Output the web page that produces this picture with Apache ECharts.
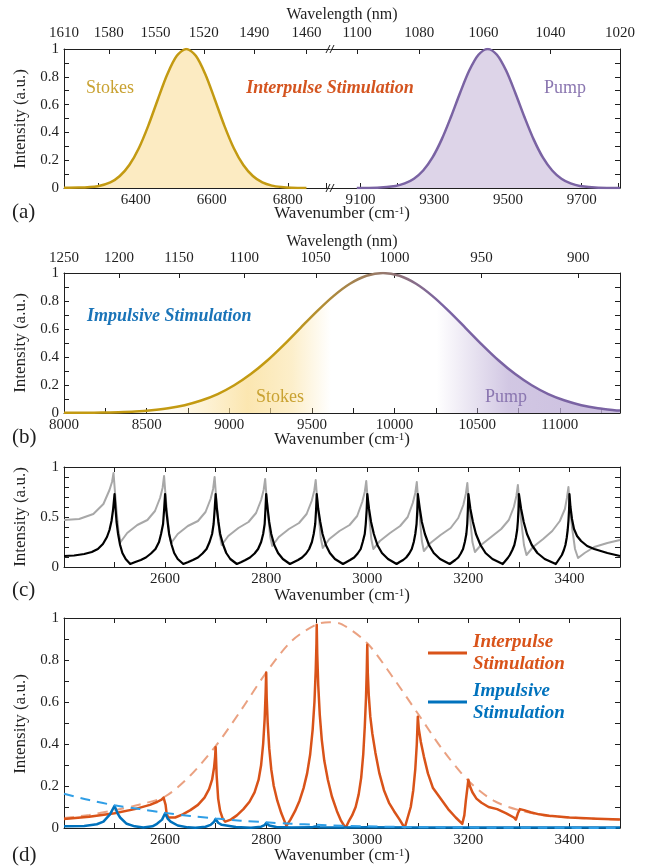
<!DOCTYPE html>
<html>
<head>
<meta charset="utf-8">
<title>Interpulse vs impulsive stimulation</title>
<script src="https://cdn.jsdelivr.net/npm/echarts@6/dist/echarts.min.js"></script>
<style>body{margin:0;background:#fff;}</style>
</head>
<body>
<div id="main" style="width:649px;height:867px;"></div>
<script>
// ---- data (x = wavenumber in cm-1, y = intensity a.u.) ----

// (a) two separated pulses
var stokesA = [[6211,0.002],[6250,0.003],[6300,0.013],[6333,0.04],[6358,0.086],[6383,0.165],[6408,0.286],
  [6433,0.449],[6458,0.637],[6483,0.818],[6508,0.951],[6533,1],[6558,0.951],[6583,0.818],[6608,0.637],
  [6633,0.449],[6658,0.286],[6683,0.165],[6708,0.086],[6733,0.04],[6758,0.017],[6783,0.007],[6810,0.002],[6849,0]];
var pumpA = [[9090,0],[9145,0.002],[9195,0.0145],[9220,0.033],[9245,0.067],[9270,0.126],[9295,0.218],
  [9320,0.348],[9345,0.509],[9370,0.684],[9395,0.845],[9420,0.959],[9445,1],[9470,0.959],[9495,0.845],
  [9520,0.684],[9545,0.509],[9570,0.348],[9595,0.218],[9620,0.126],[9645,0.067],[9670,0.033],[9695,0.0145],
  [9745,0.002],[9804,0]];

// (b) one broadband pulse
var broadB = [[8000,0.001],[8130,0.0015],[8230,0.003],[8330,0.006],[8430,0.011],[8530,0.02],[8630,0.034],
  [8730,0.056],[8830,0.089],[8930,0.135],[9030,0.198],[9130,0.278],[9230,0.375],[9330,0.487],[9430,0.607],
  [9530,0.726],[9630,0.835],[9730,0.923],[9830,0.98],[9930,1],[10030,0.98],[10130,0.923],[10230,0.835],
  [10330,0.726],[10430,0.607],[10530,0.487],[10630,0.375],[10730,0.278],[10830,0.198],[10930,0.135],
  [11030,0.089],[11130,0.056],[11230,0.034],[11330,0.02],[11364,0.017]];

// (c) grey and black comb spectra
var grayC = [[2400,0.47],[2430,0.48],[2458,0.53],[2478,0.63],[2490,0.77],[2495,0.85],[2498,0.94],
  [2501,0.74],[2504,0.56],[2508,0.35],[2512,0.25],[2525,0.34],[2545,0.42],[2565,0.47],[2580,0.56],[2590,0.69],[2595,0.79],[2598,0.91],
  [2601,0.71],[2604,0.54],[2608,0.33],[2612,0.24],[2625,0.33],[2645,0.41],[2665,0.46],[2680,0.55],[2690,0.68],[2695,0.78],[2698,0.9],
  [2701,0.7],[2704,0.53],[2708,0.32],[2712,0.22],[2725,0.31],[2745,0.39],[2765,0.45],[2780,0.54],[2790,0.67],[2795,0.77],[2798,0.88],
  [2801,0.68],[2804,0.51],[2808,0.3],[2812,0.21],[2825,0.3],[2845,0.38],[2865,0.44],[2880,0.53],[2890,0.66],[2895,0.76],[2898,0.87],
  [2901,0.67],[2904,0.5],[2908,0.29],[2912,0.19],[2925,0.28],[2945,0.36],[2965,0.42],[2980,0.51],[2990,0.65],[2995,0.75],[2998,0.86],
  [3001,0.66],[3004,0.49],[3008,0.28],[3012,0.18],[3025,0.26],[3045,0.34],[3065,0.41],[3080,0.5],[3090,0.64],[3095,0.74],[3098,0.85],
  [3101,0.65],[3104,0.48],[3108,0.26],[3112,0.16],[3125,0.24],[3145,0.32],[3165,0.39],[3180,0.49],[3190,0.62],[3195,0.73],[3198,0.84],
  [3201,0.64],[3204,0.46],[3208,0.25],[3213,0.15],[3225,0.22],[3245,0.3],[3265,0.38],[3280,0.47],[3290,0.6],[3295,0.71],[3298,0.82],
  [3301,0.62],[3305,0.44],[3310,0.22],[3315,0.12],[3328,0.2],[3348,0.28],[3366,0.36],[3381,0.46],[3391,0.58],[3395,0.69],[3398,0.8],
  [3401,0.6],[3405,0.4],[3411,0.18],[3417,0.09],[3430,0.14],[3449,0.2],[3475,0.24],[3500,0.27]];
var blackC = [[2400,0.11],[2420,0.115],[2440,0.13],[2455,0.15],[2467,0.18],[2477,0.23],[2485,0.3],[2490,0.37],[2494,0.46],[2497,0.57],[2500,0.73],
  [2502,0.58],[2504,0.45],[2507,0.33],[2511,0.22],[2515.5,0.14],[2522,0.08],[2531,0.03],
  [2541,0.05],[2552,0.07],[2562,0.095],[2572,0.135],[2581,0.18],[2588,0.25],[2592,0.33],[2596,0.43],[2598,0.57],[2600,0.73],
  [2602,0.58],[2605,0.45],[2608,0.33],[2613,0.22],[2618,0.14],[2625,0.08],[2636,0.03],
  [2646,0.05],[2655,0.07],[2665,0.095],[2674,0.135],[2682,0.18],[2688,0.25],[2693,0.33],[2696,0.43],[2698,0.57],[2700,0.73],
  [2702.5,0.58],[2705.5,0.45],[2709,0.33],[2715,0.22],[2721,0.14],[2729,0.08],[2742,0.03],
  [2751,0.05],[2759,0.07],[2768,0.095],[2777,0.135],[2784,0.18],[2790,0.25],[2794,0.33],[2797,0.43],[2798.5,0.57],[2800,0.73],
  [2803,0.58],[2806,0.45],[2810,0.33],[2816,0.22],[2823.5,0.14],[2833,0.08],[2847,0.03],
  [2855,0.05],[2863,0.07],[2871,0.095],[2879,0.135],[2885,0.18],[2890.5,0.25],[2894,0.33],[2897,0.43],[2898.7,0.57],[2900,0.73],
  [2903,0.58],[2907,0.45],[2911.5,0.33],[2918,0.22],[2926,0.14],[2936,0.08],[2952,0.03],
  [2959,0.05],[2966,0.07],[2974,0.095],[2981,0.135],[2987,0.18],[2991,0.25],[2995,0.33],[2997,0.43],[2998.8,0.57],[3000,0.73],
  [3003.5,0.58],[3007.5,0.45],[3013,0.33],[3020,0.22],[3029,0.14],[3041,0.08],[3058,0.03],
  [3064,0.05],[3071,0.07],[3077,0.095],[3083,0.135],[3088,0.18],[3092,0.25],[3095,0.33],[3097.5,0.43],[3099,0.57],[3100,0.73],
  [3104,0.58],[3108,0.45],[3114,0.33],[3122,0.22],[3131.5,0.14],[3144,0.08],[3163,0.03],
  [3168.5,0.05],[3174,0.07],[3180,0.095],[3185,0.135],[3189.5,0.18],[3193,0.25],[3196,0.33],[3197.8,0.43],[3199,0.57],[3200,0.73],
  [3204,0.58],[3209,0.45],[3215,0.33],[3224,0.22],[3234,0.14],[3247.6,0.08],[3268,0.03],
  [3273,0.06],[3278,0.09],[3282,0.12],[3287,0.17],[3291,0.22],[3294,0.29],[3296.5,0.37],[3298,0.46],[3299.2,0.58],[3300,0.73],
  [3304.4,0.58],[3309.5,0.45],[3316,0.33],[3325.5,0.22],[3336.5,0.14],[3351,0.08],[3373,0.03],
  [3377,0.06],[3381,0.09],[3385,0.12],[3389,0.17],[3392,0.22],[3394.5,0.29],[3396.5,0.37],[3398,0.46],[3399.3,0.58],[3400,0.73],
  [3402,0.6],[3405,0.48],[3409,0.38],[3415,0.31],[3423,0.26],[3435,0.21],[3449,0.18],[3475,0.14],[3500,0.11]];

// (d) resulting Raman excitation
var interpulseD = [[2400,0.043],[2450,0.054],[2500,0.07],[2540,0.09],[2570,0.11],[2585,0.125],[2593,0.135],[2597,0.145],[2599,0.15],
  [2601,0.11],[2603,0.07],[2606,0.05],[2609,0.043],
  [2620,0.05],[2635,0.065],[2650,0.085],[2665,0.11],[2678,0.145],[2687,0.185],[2693,0.23],[2697,0.29],[2699,0.34],[2700,0.385],
  [2702,0.25],[2705,0.14],[2709,0.08],[2714,0.045],[2719,0.03],
  [2730,0.04],[2742,0.06],[2755,0.09],[2767,0.125],[2777,0.17],[2785,0.23],[2790,0.3],[2794,0.4],[2797,0.52],[2799,0.65],[2800,0.74],
  [2801,0.62],[2803,0.5],[2806,0.38],[2810,0.28],[2815,0.2],[2822,0.13],[2830,0.07],[2840,0.01],
  [2848,0.04],[2857,0.08],[2866,0.13],[2874,0.19],[2881,0.26],[2887,0.35],[2892,0.47],[2895.5,0.6],[2898,0.75],[2899.5,0.88],[2900,0.968],
  [2901,0.83],[2903,0.68],[2906,0.54],[2910,0.42],[2915,0.32],[2922,0.23],[2930,0.15],[2940,0.08],[2948,0.035],[2957,0],
  [2963,0.03],[2970,0.06],[2977,0.1],[2983,0.16],[2988,0.24],[2992,0.35],[2995,0.48],[2997.5,0.62],[2999,0.75],[3000,0.873],
  [3001,0.74],[3003,0.63],[3006,0.53],[3010,0.45],[3016,0.36],[3024,0.26],[3033,0.18],[3043,0.12],[3053,0.08],[3064,0.04],[3074,0],
  [3080,0.05],[3086,0.1],[3091,0.18],[3095,0.28],[3098,0.4],[3100,0.53],
  [3102,0.47],[3106,0.41],[3112,0.34],[3120,0.26],[3130,0.19],[3145,0.14],[3160,0.09],[3175,0.05],[3188,0.02],
  [3192,0.06],[3195,0.13],[3198,0.19],[3200,0.23],
  [3203,0.2],[3208,0.17],[3216,0.14],[3226,0.12],[3240,0.1],[3257,0.09],[3275,0.07],[3290,0.05],[3294,0.04],
  [3298,0.07],[3302,0.09],[3310,0.085],[3323,0.075],[3340,0.065],[3360,0.058],[3400,0.05],[3455,0.044],[3500,0.04]];
var interpulseEnvD = [[2400,0.048],[2450,0.062],[2500,0.085],[2550,0.112],[2600,0.15],[2650,0.25],[2700,0.39],
  [2750,0.56],[2800,0.74],[2850,0.89],[2900,0.97],[2925,0.98],[2950,0.97],[3000,0.88],[3050,0.72],[3100,0.545],
  [3150,0.37],[3200,0.225],[3250,0.13],[3300,0.085],[3350,0.06],[3400,0.05],[3450,0.044],[3500,0.04]];
var impulsiveD = [[2400,0.008],[2440,0.01],[2465,0.018],[2478,0.03],[2491,0.065],[2500,0.105],[2506,0.07],
  [2511,0.05],[2524,0.02],[2540,0.008],[2557,0.002],[2575,0.008],[2584,0.02],[2594,0.04],[2600,0.07],
  [2605,0.045],[2611,0.03],[2625,0.012],[2645,0.003],[2660,0.001],[2680,0.006],[2690,0.015],[2697,0.03],
  [2700,0.043],[2705,0.025],[2712,0.015],[2740,0.005],[2770,0.001],[2790,0.006],[2797,0.014],[2800,0.024],
  [2806,0.012],[2820,0.005],[2850,0.002],[2890,0.003],[2897,0.007],[2900,0.011],[2906,0.004],[2950,0.002],
  [3000,0.003],[3100,0.002],[3500,0.002]];
var impulsiveEnvD = [[2400,0.163],[2450,0.133],[2500,0.108],[2550,0.09],[2600,0.072],[2650,0.057],[2700,0.045],
  [2750,0.035],[2800,0.027],[2850,0.02],[2900,0.015],[3000,0.008],[3100,0.004],[3200,0.002],[3350,0.001],[3500,0]];

// ---- tick labels ----
var waveTopALeft = [1610, 1580, 1550, 1520, 1490, 1460];      // nm
var waveTopARight = [1100, 1080, 1060, 1040, 1020];          // nm
var waveTopB = [1250, 1200, 1150, 1100, 1050, 1000, 950, 900]; // nm
var numLabelsALeft = [6400, 6600, 6800];
var numTicksALeft = [6300, 6400, 6500, 6600, 6700, 6800, 6900];
var numLabelsARight = [9100, 9300, 9500, 9700];
var numTicksARight = [9100, 9200, 9300, 9400, 9500, 9600, 9700, 9800];
var numLabelsB = [8000, 8500, 9000, 9500, 10000, 10500, 11000];
var numTicksB = [8250, 8500, 8750, 9000, 9250, 9500, 9750, 10000, 10250, 10500, 10750, 11000, 11250];
var numLabelsCD = [2600, 2800, 3000, 3200, 3400];
var numTicksCD = [2500, 2600, 2700, 2800, 2900, 3000, 3100, 3200, 3300, 3400];

var FONT = 'Liberation Serif';
var INK = '#1f1f1f';
var GOLD = '#c39a12', PURPLE = '#7a63a3';
var ORANGE = '#d95319', BLUE = '#0072bd';

function toNum(nm) { return 1e7 / nm; }
function nmFmt(v) { return String(Math.round(1e7 / v)); }
function plain(v) { return String(v); }   // no thousands separators

// one axis of a boxed (matlab-like) frame
function ax(o) {
  var a = {
    type: 'value', gridIndex: o.grid, position: o.pos, min: o.min, max: o.max,
    splitLine: {show: false},
    axisLine: {onZero: false, lineStyle: {color: INK, width: 1}},
    axisTick: {inside: true, length: 5, lineStyle: {color: INK, width: 1}},
    minorTick: {show: !!o.minor, splitNumber: o.minor || 2, length: 5, lineStyle: {color: INK, width: 1}},
    axisLabel: {show: !!o.labels, fontFamily: FONT, fontSize: 15, color: INK, margin: o.margin || 5,
      formatter: o.fmt || plain}
  };
  if (o.interval) a.interval = o.interval;
  if (o.ticks) a.axisTick.customValues = o.ticks;
  if (o.labels && o.labels !== true) a.axisLabel.customValues = o.labels;
  return a;
}

var grids = [
  {left: 64, top: 49, width: 266, height: 139},   // (a) left part
  {left: 331, top: 49, width: 289, height: 139},  // (a) right part
  {left: 64, top: 273, width: 556, height: 140},  // (b)
  {left: 64, top: 467, width: 556, height: 100},  // (c)
  {left: 64, top: 618, width: 556, height: 210}   // (d)
];
grids.forEach(function (g) { g.outerBoundsMode = 'none'; });

var aL = [toNum(1610), 6911], aR = [9020, toNum(1020)];
var waveTicksAL = waveTopALeft.map(toNum), waveTicksAR = waveTopARight.map(toNum), waveTicksB = waveTopB.map(toNum);

var xAxes = [
  ax({grid: 0, pos: 'bottom', min: aL[0], max: aL[1], ticks: numTicksALeft, labels: numLabelsALeft}),
  ax({grid: 0, pos: 'top', min: aL[0], max: aL[1], ticks: waveTicksAL, labels: waveTicksAL, fmt: nmFmt, margin: 8}),
  ax({grid: 1, pos: 'bottom', min: aR[0], max: aR[1], ticks: numTicksARight, labels: numLabelsARight}),
  ax({grid: 1, pos: 'top', min: aR[0], max: aR[1], ticks: waveTicksAR, labels: waveTicksAR, fmt: nmFmt, margin: 8}),
  ax({grid: 2, pos: 'bottom', min: 8000, max: 11364, ticks: numTicksB, labels: numLabelsB}),
  ax({grid: 2, pos: 'top', min: 8000, max: 11364, ticks: waveTicksB, labels: waveTicksB, fmt: nmFmt, margin: 7}),
  ax({grid: 3, pos: 'bottom', min: 2400, max: 3500, ticks: numTicksCD, labels: numLabelsCD}),
  ax({grid: 3, pos: 'top', min: 2400, max: 3500, ticks: numTicksCD}),
  ax({grid: 4, pos: 'bottom', min: 2400, max: 3500, ticks: numTicksCD, labels: numLabelsCD}),
  ax({grid: 4, pos: 'top', min: 2400, max: 3500, ticks: numTicksCD})
];

var yAxes = [
  ax({grid: 0, pos: 'left', min: 0, max: 1, interval: 0.2, minor: 2, labels: true}),
  ax({grid: 1, pos: 'right', min: 0, max: 1, interval: 0.2, minor: 2}),
  ax({grid: 2, pos: 'left', min: 0, max: 1, interval: 0.2, minor: 2, labels: true}),
  ax({grid: 2, pos: 'right', min: 0, max: 1, interval: 0.2, minor: 2}),
  ax({grid: 3, pos: 'left', min: 0, max: 1, interval: 0.5, minor: 5, labels: true}),
  ax({grid: 3, pos: 'right', min: 0, max: 1, interval: 0.5, minor: 5}),
  ax({grid: 4, pos: 'left', min: 0, max: 1, interval: 0.2, minor: 2, labels: true}),
  ax({grid: 4, pos: 'right', min: 0, max: 1, interval: 0.2, minor: 2})
];

function line(data, xi, yi, color, width, extra) {
  var s = {
    type: 'line', data: data, xAxisIndex: xi, yAxisIndex: yi,
    showSymbol: false, symbol: 'none', animation: false, silent: true,
    lineStyle: {color: color, width: width, join: 'round'}
  };
  for (var k in extra) s[k] = extra[k];
  return s;
}

var lg = echarts.graphic.LinearGradient;
var series = [
  line(stokesA, 0, 0, GOLD, 2.5, {smooth: 0.3, areaStyle: {color: '#fcebc2', opacity: 1}}),
  line(pumpA, 2, 1, PURPLE, 2.5, {smooth: 0.3, areaStyle: {color: '#ddd4e8', opacity: 1}}),
  line(broadB, 4, 2, new lg(0, 0, 1, 0, [
      {offset: 0, color: GOLD}, {offset: 0.4, color: GOLD},
      {offset: 0.68, color: PURPLE}, {offset: 1, color: PURPLE}]), 2.5,
    {smooth: 0.3, areaStyle: {opacity: 1, color: new lg(0, 0, 1, 0, [
      {offset: 0, color: 'rgba(250,222,150,0)'}, {offset: 0.2, color: 'rgba(250,222,150,0.15)'},
      {offset: 0.33, color: 'rgba(250,222,150,0.75)'}, {offset: 0.41, color: 'rgba(250,222,150,0.5)'},
      {offset: 0.48, color: 'rgba(250,222,150,0)'}, {offset: 0.67, color: 'rgba(190,175,215,0)'},
      {offset: 0.8, color: 'rgba(190,175,215,0.7)'}, {offset: 1, color: 'rgba(190,175,215,0.8)'}])}}),
  line(grayC, 6, 4, '#a8a8a8', 2),
  line(blackC, 6, 4, '#000000', 2.2),
  line(interpulseEnvD, 8, 6, 'rgba(217,83,25,0.55)', 2, {smooth: 0.3, lineStyle: {color: 'rgba(217,83,25,0.55)', width: 2, type: [10, 7]}}),
  line(interpulseD, 8, 6, ORANGE, 2.5),
  line(impulsiveD, 8, 6, BLUE, 2.5),
  line(impulsiveEnvD, 8, 6, '#2f9ee6', 2, {smooth: 0.3, lineStyle: {color: '#2f9ee6', width: 2, type: [10, 7]}})
];

// ---- text and decorations ----
var sup = {s: {fontFamily: FONT, fontSize: 11, verticalAlign: 'top', fill: INK}};
function txt(x, y, text, size, opt) {
  opt = opt || {};
  return {
    type: 'text', x: x, y: y, rotation: opt.rot || 0, z: 10,
    style: {
      text: text, fill: opt.color || INK, textAlign: opt.align || 'center', textVerticalAlign: 'middle',
      font: (opt.weight || '') + ' ' + size + 'px "' + FONT + '"', rich: opt.rich
    }
  };
}
function wn(y) { return txt(342, y, 'Wavenumber (cm{s|-1})', 17, {rich: sup}); }
function intensity(y) { return txt(21, y, 'Intensity (a.u.)', 17, {rot: Math.PI / 2}); }
function brk(x, y) {
  return {type: 'group', z: 10, children: [
    {type: 'line', shape: {x1: x - 4, y1: y + 4, x2: x, y2: y - 4}, style: {stroke: INK, lineWidth: 1}},
    {type: 'line', shape: {x1: x, y1: y + 4, x2: x + 4, y2: y - 4}, style: {stroke: INK, lineWidth: 1}}
  ]};
}
var bi = 'italic bold';

var graphics = [
  txt(342, 15, 'Wavelength (nm)', 16),
  brk(330, 49), brk(330, 188),
  intensity(119),
  txt(110, 88, 'Stokes', 18, {color: '#c9a232'}),
  txt(330, 88, 'Interpulse Stimulation', 18, {color: '#d4541f', weight: bi}),
  txt(565, 88, 'Pump', 18, {color: '#8a76b0'}),
  txt(12, 212, '(a)', 21, {align: 'left'}),
  wn(214),

  txt(342, 242, 'Wavelength (nm)', 16),
  intensity(343),
  txt(87, 316, 'Impulsive Stimulation', 18, {color: '#1a74b8', weight: bi, align: 'left'}),
  txt(280, 397, 'Stokes', 18, {color: '#c9a232'}),
  txt(506, 397, 'Pump', 18, {color: '#8a76b0'}),
  txt(12, 437, '(b)', 21, {align: 'left'}),
  wn(440),

  intensity(517),
  txt(12, 590, '(c)', 21, {align: 'left'}),
  wn(596),

  intensity(724),
  {type: 'line', z: 10, shape: {x1: 428, y1: 653, x2: 467, y2: 653}, style: {stroke: ORANGE, lineWidth: 3}},
  {type: 'line', z: 10, shape: {x1: 428, y1: 702, x2: 467, y2: 702}, style: {stroke: BLUE, lineWidth: 3}},
  txt(473, 642, 'Interpulse', 19, {color: ORANGE, weight: bi, align: 'left'}),
  txt(473, 664, 'Stimulation', 19, {color: ORANGE, weight: bi, align: 'left'}),
  txt(473, 691, 'Impulsive', 19, {color: BLUE, weight: bi, align: 'left'}),
  txt(473, 713, 'Stimulation', 19, {color: BLUE, weight: bi, align: 'left'}),
  txt(12, 855, '(d)', 21, {align: 'left'}),
  wn(856)
];

var myChart = echarts.init(document.getElementById('main'), null, {renderer: 'canvas'});
myChart.setOption({
  backgroundColor: '#ffffff',
  animation: false,
  textStyle: {fontFamily: FONT},
  grid: grids,
  xAxis: xAxes,
  yAxis: yAxes,
  series: series,
  graphic: graphics
});
</script>
</body>
</html>
